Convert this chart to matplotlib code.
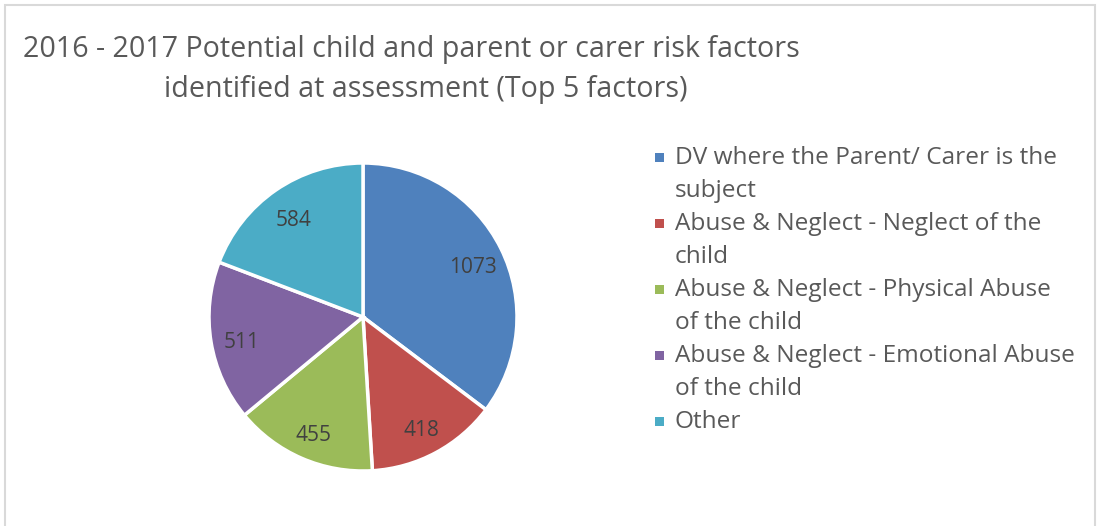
import matplotlib
matplotlib.use("Agg")
import matplotlib.pyplot as plt
from matplotlib.patches import Rectangle

categories = [
    "DV where the Parent/ Carer is the\nsubject",
    "Abuse & Neglect - Neglect of the\nchild",
    "Abuse & Neglect - Physical Abuse\nof the child",
    "Abuse & Neglect - Emotional Abuse\nof the child",
    "Other",
]
values = [1073, 418, 455, 511, 584]
colors = ["#4F81BD", "#C0504D", "#9BBB59", "#8064A2", "#4BACC6"]
title_lines = ["2016 - 2017 Potential child and parent or carer risk factors",
               "identified at assessment (Top 5 factors)"]

W, H = 1097, 526
fig = plt.figure(figsize=(W / 100, H / 100), dpi=100)
fig.patch.set_facecolor("white")
font = "Open Sans"
txtcol = "#595959"

# chart frame
fig.patches.append(Rectangle((5 / W, -0.1), 1090 / W, (H - 5) / H + 0.1,
                             transform=fig.transFigure, fill=False,
                             edgecolor="#D9D9D9", lw=1.5))

# pie axes
cx, cy, r = 363, 317, 154
ax = fig.add_axes([(cx - r) / W, (H - cy - r) / H, 2 * r / W, 2 * r / H])
total = sum(values)
wedges, texts, autotexts = ax.pie(
    values, colors=colors, startangle=90, counterclock=False,
    wedgeprops=dict(edgecolor="white", linewidth=2.5),
    autopct=lambda p: f"{round(p * total / 100)}", pctdistance=0.8,
    textprops=dict(color="#404040", fontsize=15, family=font))
for t in autotexts:
    t.set_y(t.get_position()[1] - 0.035)
ax.set_xlim(-1, 1)
ax.set_ylim(-1, 1)
ax.set_aspect("equal")
ax.axis("off")

# title
fig.text(411 / W, 1 - 50 / H, title_lines[0], ha="center", va="center",
         fontsize=20.6, color=txtcol, family=font)
fig.text(426 / W, 1 - 90 / H, title_lines[1], ha="center", va="center",
         fontsize=20.6, color=txtcol, family=font)

# legend (manual, Excel-style: marker aligned with first line)
y = 158
line_h = 33
for lab, col in zip(categories, colors):
    fig.patches.append(Rectangle((655 / W, 1 - (y + 4) / H), 9 / W, 9 / H,
                                 transform=fig.transFigure, facecolor=col,
                                 edgecolor="none"))
    parts = lab.split("\n")
    for i, part in enumerate(parts):
        fig.text(675 / W, 1 - (y + i * line_h) / H, part, ha="left", va="center",
                 fontsize=17.6, color=txtcol, family=font)
    y += line_h * len(parts)

fig.savefig("out.png", dpi=100)
